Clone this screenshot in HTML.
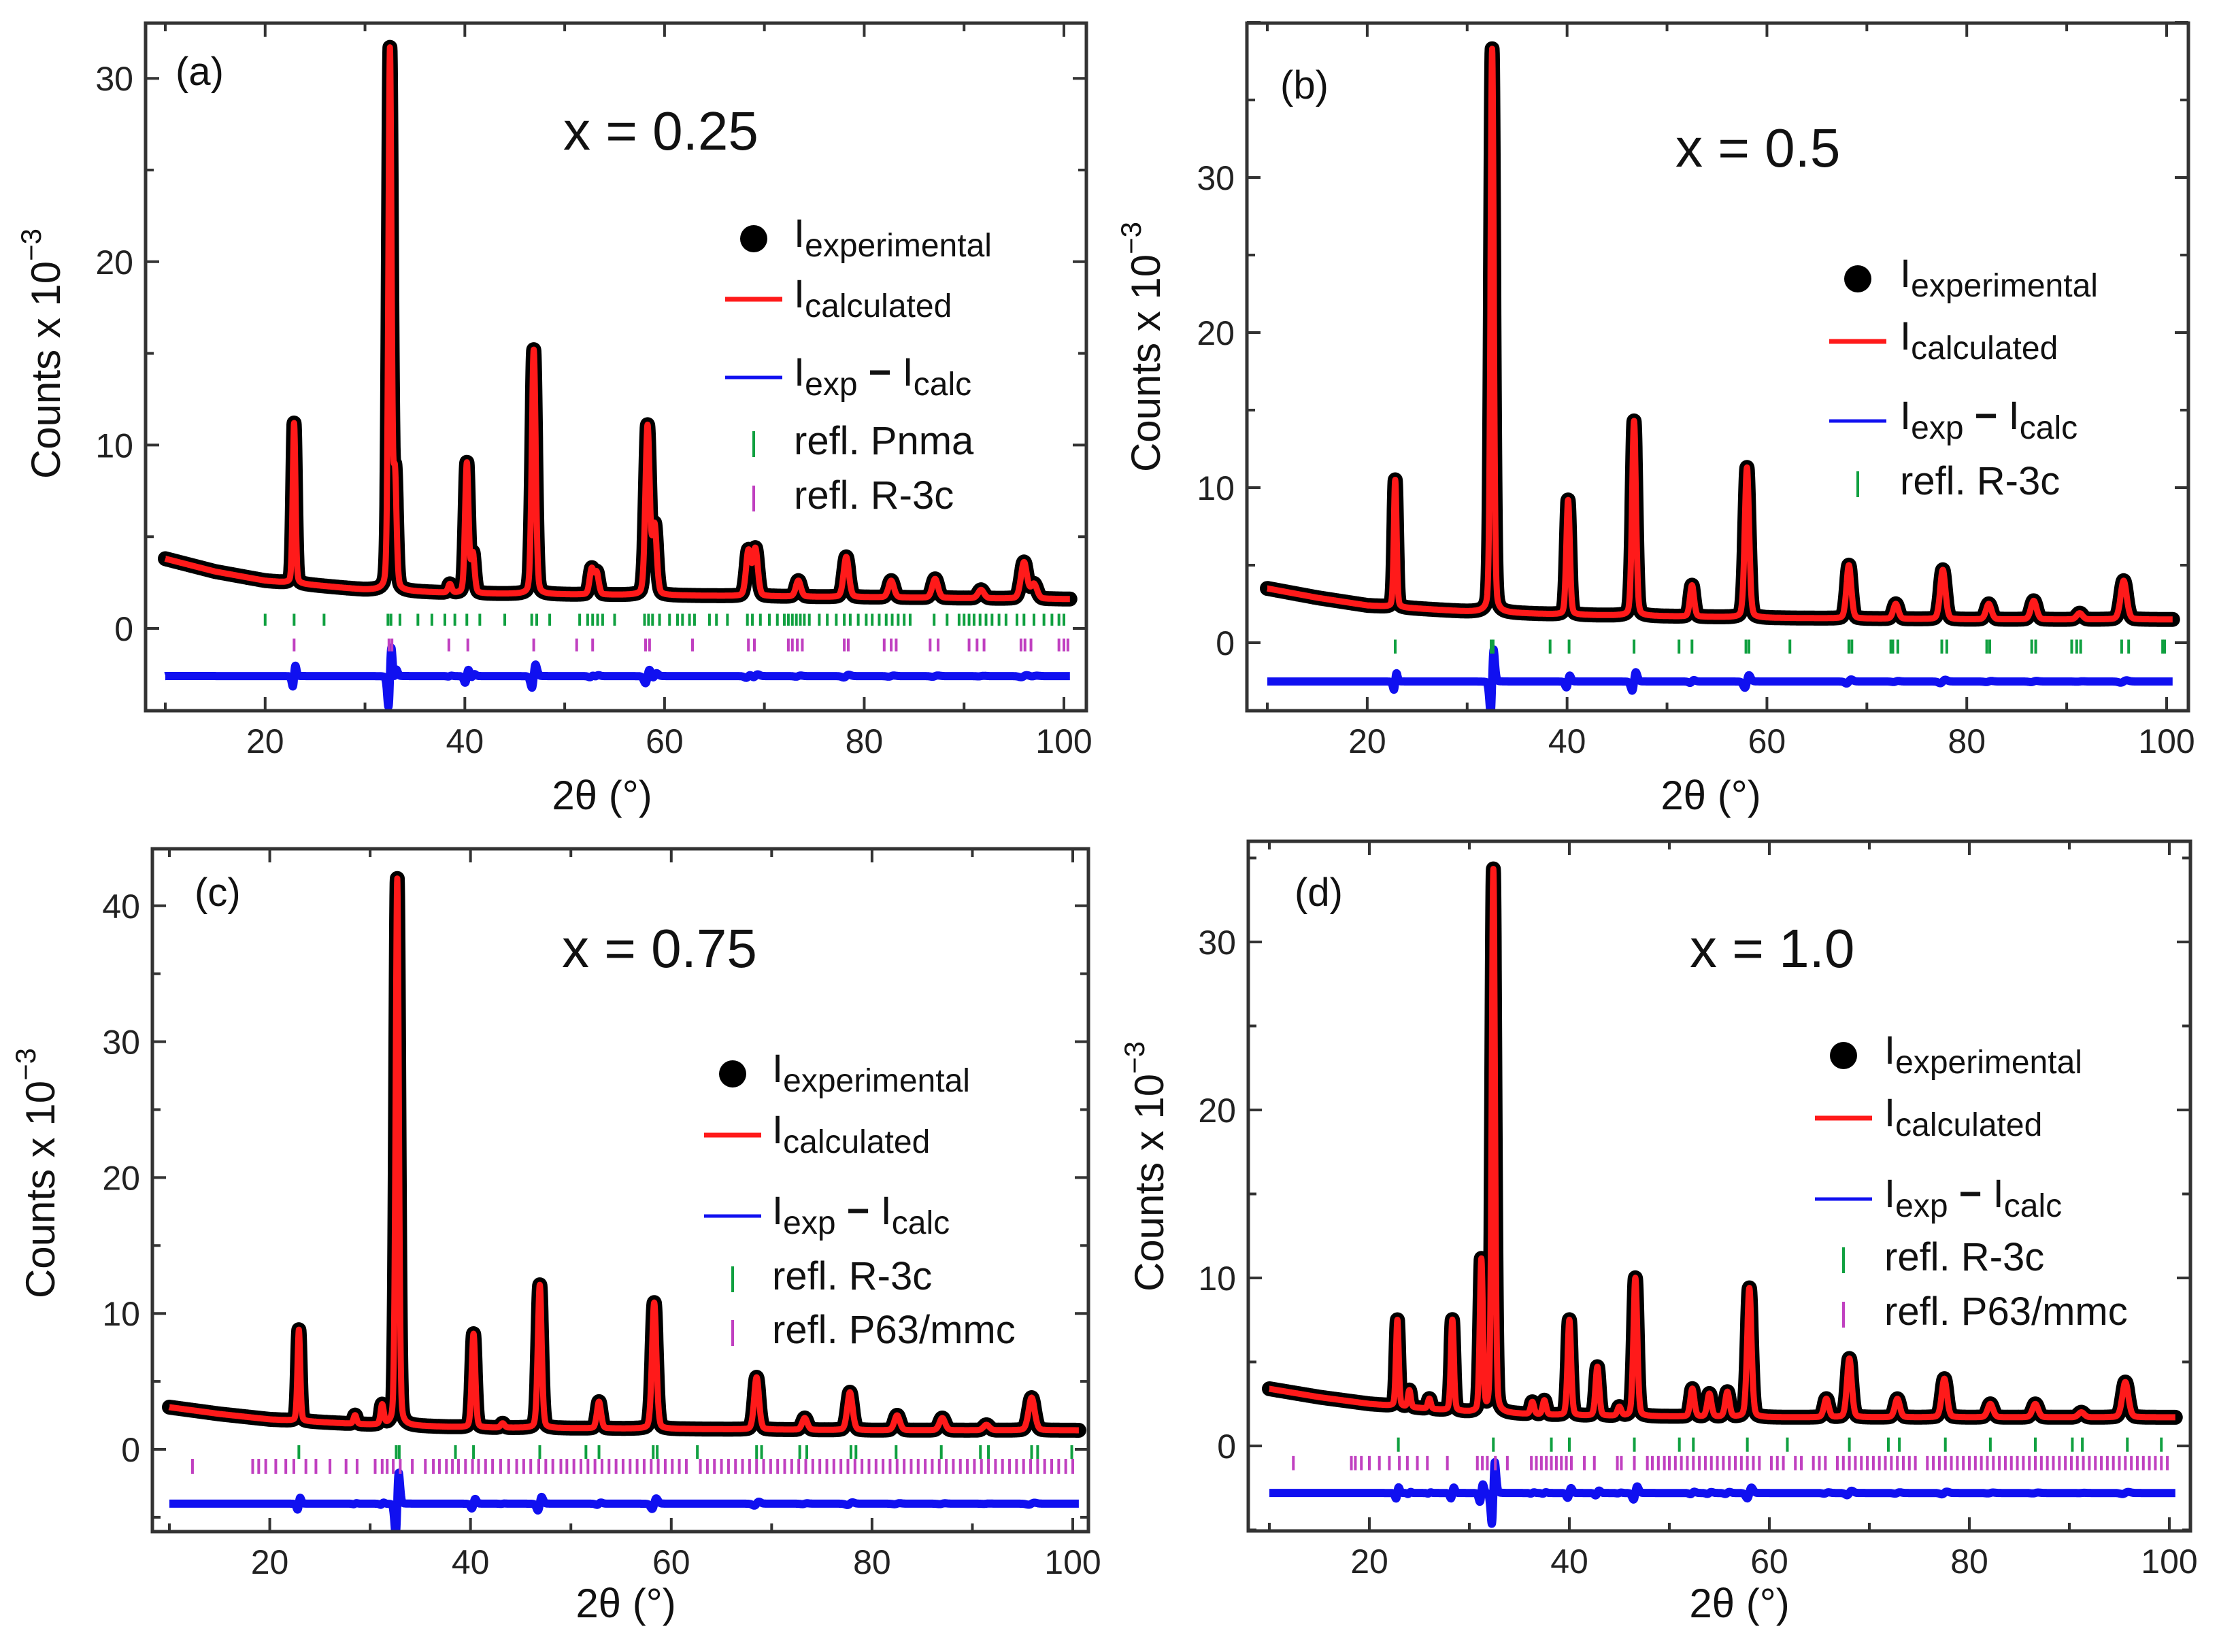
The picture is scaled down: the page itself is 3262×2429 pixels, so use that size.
<!DOCTYPE html>
<html><head><meta charset="utf-8"><style>
html,body{margin:0;padding:0;background:#fff;}
svg{display:block;font-family:"Liberation Sans",Arial,sans-serif;}
</style></head><body>
<svg id="fig" width="3262" height="2429" viewBox="0 0 3262 2429" xmlns="http://www.w3.org/2000/svg"></svg>
<script>
// ---------- DATA ----------
const bgX = [10, 15, 20, 30, 40, 60, 80, 100];
const bgA = [3.8, 3.1, 2.6, 2.1, 1.9, 1.8, 1.7, 1.6];
const bgB = [3.5, 2.9, 2.4, 2.0, 1.8, 1.6, 1.5, 1.5];
const bgC = [3.1, 2.6, 2.2, 1.8, 1.6, 1.5, 1.4, 1.4];
const bgD = [3.4, 2.9, 2.5, 2.0, 1.8, 1.7, 1.7, 1.7];

const peakPosA = [22.9, 32.5, 33.0, 38.5, 40.2, 40.8, 46.9, 52.7, 53.2, 58.3, 59.0, 68.4, 69.1, 73.4, 78.2, 82.7, 87.1, 91.7, 96.0, 97.0];
const peakHA   = [11.2, 31.5, 8.0, 2.4, 9.0, 4.0, 15.2, 3.2, 3.0, 11.0, 5.5, 4.2, 4.3, 2.6, 3.9, 2.6, 2.7, 2.1, 3.6, 2.4];
const peakPosB = [22.8, 32.5, 40.1, 46.7, 52.5, 58.0, 68.2, 72.9, 77.6, 82.2, 86.7, 91.3, 95.7];
const peakHB   = [10.5, 38.3, 9.2, 14.3, 3.7, 11.3, 5.0, 2.5, 4.7, 2.5, 2.7, 1.9, 4.0];
const peakPosC = [22.9, 28.5, 31.2, 32.7, 40.3, 43.2, 46.9, 52.8, 58.3, 68.5, 73.3, 77.8, 82.5, 87.0, 91.4, 95.9];
const peakHC   = [8.8, 2.5, 3.2, 42.0, 8.5, 1.9, 12.1, 3.5, 10.8, 5.3, 2.3, 4.2, 2.5, 2.3, 1.8, 3.8];
const peakPosD = [22.8, 24.0, 26.0, 28.3, 31.2, 32.4, 36.3, 37.5, 40.0, 42.8, 45.0, 46.6, 52.3, 54.0, 55.8, 58.0, 65.7, 68.0, 72.8, 77.5, 82.1, 86.6, 91.2, 95.6];
const peakHD   = [7.5, 3.3, 2.8, 7.5, 11.0, 34.3, 2.6, 2.7, 7.5, 4.7, 2.3, 10.0, 3.4, 3.1, 3.2, 9.4, 2.8, 5.2, 2.8, 4.0, 2.5, 2.5, 2.0, 3.8];

const reflPnmaA = [20.0,22.9,25.9,32.3,32.6,33.5,35.3,36.7,38.0,39.0,40.2,41.5,44.0,46.7,47.2,48.5,51.5,52.3,52.8,53.3,53.8,55.0,58.0,58.4,58.8,59.5,60.5,61.3,61.8,62.5,63.0,64.5,65.2,66.3,68.3,68.8,69.6,70.5,71.3,72.0,72.4,72.8,73.2,73.6,74.0,74.5,75.5,76.3,77.2,78.0,78.6,79.4,80.2,80.8,81.5,82.2,82.8,83.4,84.0,84.6,87.0,88.3,89.5,90.0,90.5,91.0,91.6,92.2,92.8,93.5,94.2,95.3,96.0,97.0,98.0,98.8,99.5,100.0];
const reflR3cA = [22.9,32.4,32.7,38.4,40.3,46.9,51.2,52.8,58.1,58.5,62.8,68.4,69.0,72.4,72.8,73.3,73.8,78.0,78.4,82.0,82.7,83.2,86.6,87.4,90.5,91.3,92.0,95.7,96.1,96.7,99.5,100.0,100.4];
const reflR3cB = [22.8,32.4,32.6,38.3,40.2,46.7,51.2,52.5,57.9,58.2,62.3,68.2,68.5,72.4,72.6,73.1,77.5,78.0,82.0,82.3,86.5,86.9,90.5,91.0,91.4,95.5,96.2,99.6,99.8];
const reflR3cC = [22.9,32.6,32.9,38.5,40.3,46.9,51.5,52.8,58.2,58.6,62.6,68.5,69.0,72.8,73.5,77.9,78.4,82.4,86.9,90.8,91.6,95.9,96.5,99.9];
const reflP63C = [12.3,18.3,18.9,19.6,20.6,21.6,22.4,23.6,24.6,26.0,27.6,28.7,30.5,31.2,31.7,32.3,33.0,34.2,35.5,36.3,36.9,37.6,38.2,38.8,39.5,40.2,40.8,41.5,42.2,43.0,43.8,44.6,45.3,46.0,46.8,47.5,48.2,49.0,49.6,50.3,51.0,51.7,52.4,53.1,53.8,54.5,55.2,55.9,56.6,57.3,58.0,58.7,59.4,60.1,60.8,61.5,62.9,63.6,64.3,65.0,65.7,66.4,67.1,67.8,68.5,69.2,69.9,70.6,71.3,72.0,72.7,73.4,74.1,74.8,75.5,76.2,76.9,77.6,78.3,79.0,79.7,80.4,81.1,81.8,82.5,83.2,83.9,84.6,85.3,86.0,86.7,87.4,88.1,88.8,89.5,90.2,90.9,91.6,92.3,93.0,93.7,94.4,95.1,95.8,96.5,97.2,97.9,98.6,99.3,100.0];
const reflR3cD = [22.9,32.4,38.2,40.0,46.5,51.0,52.4,57.8,61.8,68.0,71.9,73.0,77.6,82.1,86.6,90.3,91.3,95.8,99.2];
const reflP63D = [12.4,18.2,18.6,19.2,20.0,21.0,22.0,23.0,23.8,24.8,25.8,27.8,30.8,31.3,31.8,32.6,33.8,36.2,36.7,37.2,37.7,38.2,38.7,39.2,39.7,40.2,41.5,42.5,44.8,45.2,46.5,47.8,48.3,48.9,49.5,50.0,50.6,51.2,51.8,52.4,53.0,53.6,54.2,54.8,55.4,56.0,56.6,57.2,57.8,58.4,59.0,60.2,60.8,61.4,62.6,63.2,64.4,65.0,65.6,66.8,67.4,68.0,68.6,69.2,69.8,70.4,71.0,71.6,72.2,72.8,73.4,74.0,74.6,75.8,76.4,77.0,77.6,78.2,78.8,79.4,80.0,80.6,81.2,81.8,82.4,83.0,83.6,84.2,84.8,85.4,86.0,86.6,87.2,87.8,88.4,89.0,89.6,90.2,90.8,91.4,92.0,92.6,93.2,93.8,94.4,95.0,95.6,96.2,96.8,97.4,98.0,98.6,99.2,99.8];

const xTickLabels = [20, 40, 60, 80, 100];
const yTickLabelsA = [0, 10, 20, 30];
const yTickLabelsB = [0, 10, 20, 30];
const yTickLabelsC = [0, 10, 20, 30, 40];
const yTickLabelsD = [0, 10, 20, 30];

// ---------- LAYOUT ----------
const NS = "http://www.w3.org/2000/svg";
const svg = document.getElementById('fig');
function mk(tag, attrs, parent) {
  const e = document.createElementNS(NS, tag);
  for (const k in attrs) e.setAttribute(k, attrs[k]);
  (parent || svg).appendChild(e);
  return e;
}
function interp(xs, ys, x) {
  if (x <= xs[0]) return ys[0];
  for (let i = 1; i < xs.length; i++) if (x <= xs[i]) { const t = (x - xs[i-1]) / (xs[i] - xs[i-1]); return ys[i-1] + t * (ys[i] - ys[i-1]); }
  return ys[ys.length - 1];
}

const panels = [
  {id:'a', L:214, R:1597, T:34, B:1045, x10:243, x100:1564, y0:924, perUnit:26.96, ymin:-4.5, ymax:33.0,
   bg:bgA, pos:peakPosA, h:peakHA, resid:-2.6, yTicks:yTickLabelsA,
   green:reflPnmaA, greenY:[0.15,0.8], mag:reflR3cA, magY:[-0.55,-1.25],
   title:'x = 0.25', titleX:828, titleY:220, labX:258, labY:125,
   legX:1108, legTx:1167, legY:[351,440,555,648,728],
   legTexts:['Pnma','R-3c'], yTitleX:88, yTitleY:520, xTitleX:885, xTitleY:1190},
  {id:'b', L:1833, R:3217, T:34, B:1045, x10:1863, x100:3185, y0:945, perUnit:22.8, ymin:-4.4, ymax:40.0,
   bg:bgB, pos:peakPosB, h:peakHB, resid:-2.5, yTicks:yTickLabelsB,
   green:reflR3cB, greenY:[0.2,-0.7], mag:null,
   title:'x = 0.5', titleX:2463, titleY:245, labX:1882, labY:145,
   legX:2731, legTx:2793, legY:[410,502,619,707],
   legTexts:['R-3c'], yTitleX:1705, yTitleY:510, xTitleX:2515, xTitleY:1190},
  {id:'c', L:224, R:1600, T:1248, B:2252, x10:249, x100:1577, y0:2131, perUnit:19.98, ymin:-6.05, ymax:44.2,
   bg:bgC, pos:peakPosC, h:peakHC, resid:-4.0, yTicks:yTickLabelsC,
   green:reflR3cC, greenY:[0.3,-0.7], mag:reflP63C, magY:[-0.7,-1.8],
   title:'x = 0.75', titleX:826, titleY:1422, labX:286, labY:1332,
   legX:1077, legTx:1135, legY:[1579,1669,1788,1876,1955],
   legTexts:['R-3c','P63/mmc'], yTitleX:80, yTitleY:1725, xTitleX:920, xTitleY:2378},
  {id:'d', L:1835, R:3220, T:1237, B:2251, x10:1866, x100:3189, y0:2126, perUnit:24.7, ymin:-5.06, ymax:36.0,
   bg:bgD, pos:peakPosD, h:peakHD, resid:-2.8, yTicks:yTickLabelsD,
   green:reflR3cD, greenY:[0.5,-0.35], mag:reflP63D, magY:[-0.6,-1.45],
   title:'x = 1.0', titleX:2484, titleY:1422, labX:1903, labY:1332,
   legX:2710, legTx:2770, legY:[1552,1644,1763,1848,1928],
   legTexts:['R-3c','P63/mmc'], yTitleX:1710, yTitleY:1715, xTitleX:2557, xTitleY:2378}
];

function profile(p, x) {
  let y = interp(bgX, p.bg, x);
  for (let i = 0; i < p.pos.length; i++) {
    const amp = p.h[i] - interp(bgX, p.bg, p.pos[i]);
    const w = 0.10 + 0.0027 * p.pos[i];
    const d = (x - p.pos[i]) / w;
    y += amp * (0.8 * Math.exp(-d * d * 0.693) + 0.2 / (1 + d * d));
  }
  return y;
}

panels.forEach(p => {
  const g = mk('g', {});
  
  
  const sx = v => p.x10 + (v - 10) * (p.x100 - p.x10) / 90;
  const sy = v => p.y0 - v * p.perUnit;
  const clipId = 'clip' + p.id;
  const cp = mk('clipPath', {id: clipId}, g);
  mk('rect', {x: p.L, y: p.T, width: p.R - p.L, height: p.B - p.T}, cp);
  const plot = mk('g', {'clip-path': 'url(#' + clipId + ')'}, g);

  let d = '', dr = '';
  for (let x = 10; x <= 100.6; x += 0.02) {
    const v = profile(p, x);
    d += (d ? 'L' : 'M') + sx(x).toFixed(1) + ' ' + sy(v).toFixed(1);
    const dv = profile(p, x + 0.05) - profile(p, x - 0.05);
    const r = p.resid - 0.16 * dv;
    dr += (dr ? 'L' : 'M') + sx(x).toFixed(1) + ' ' + sy(r).toFixed(1);
  }
  const exp = mk('path', {d: d, fill: 'none', stroke: '#000', 'stroke-width': 22, 'stroke-linejoin': 'round', 'stroke-linecap': 'round'}, plot);
  
  
  const calc = mk('path', {d: d, fill: 'none', stroke: '#ff1a1a', 'stroke-width': 9, 'stroke-linejoin': 'round'}, plot);
  
  
  const res = mk('path', {d: dr, fill: 'none', stroke: '#1010f0', 'stroke-width': 12, 'stroke-linejoin': 'round'}, plot);
  
  

  const gg = mk('g', {stroke: '#10a040', 'stroke-width': 4}, plot);
  
  
  p.green.forEach(v => mk('line', {x1: sx(v), x2: sx(v), y1: sy(p.greenY[0]), y2: sy(p.greenY[1])}, gg));
  if (p.mag) {
    const gm = mk('g', {stroke: '#c040c0', 'stroke-width': 4}, plot);
    
    
    p.mag.forEach(v => mk('line', {x1: sx(v), x2: sx(v), y1: sy(p.magY[0]), y2: sy(p.magY[1])}, gm));
  }

  const fr = mk('rect', {x: p.L, y: p.T, width: p.R - p.L, height: p.B - p.T, fill: 'none', stroke: '#333', 'stroke-width': 5}, g);
  
  

  for (let v = 10; v <= 100; v += 10) {
    const X = sx(v), len = (v % 20 === 0) ? 20 : 12;
    mk('line', {x1: X, x2: X, y1: p.B, y2: p.B - len, stroke: '#333', 'stroke-width': 4}, g);
    mk('line', {x1: X, x2: X, y1: p.T, y2: p.T + len, stroke: '#333', 'stroke-width': 4}, g);
  }
  xTickLabels.forEach(v => {
    const t = mk('text', {x: sx(v), y: p.B + 62, 'font-size': 50, 'text-anchor': 'middle', fill: '#222'}, g);
    t.textContent = v;
    
    
  });
  for (let v = Math.ceil(p.ymin / 5) * 5; v <= p.ymax; v += 5) {
    const Y = sy(v), len = (v % 10 === 0) ? 20 : 12;
    mk('line', {x1: p.L, x2: p.L + len, y1: Y, y2: Y, stroke: '#333', 'stroke-width': 4}, g);
    mk('line', {x1: p.R, x2: p.R - len, y1: Y, y2: Y, stroke: '#333', 'stroke-width': 4}, g);
  }
  p.yTicks.forEach(v => {
    const t = mk('text', {x: p.L - 18, y: sy(v) + 18, 'font-size': 50, 'text-anchor': 'end', fill: '#222'}, g);
    t.textContent = v;
    
    
  });

  const yt = mk('text', {x: 0, y: 0, 'font-size': 60, 'text-anchor': 'middle', fill: '#111', transform: 'translate(' + p.yTitleX + ',' + p.yTitleY + ') rotate(-90)'}, g);
  yt.innerHTML = 'Counts x 10<tspan dy="-28" font-size="42">−3</tspan>';
  
  
  const xt = mk('text', {x: p.xTitleX, y: p.xTitleY, 'font-size': 60, 'text-anchor': 'middle', fill: '#111'}, g);
  xt.textContent = '2θ (°)';
  
  

  const lb = mk('text', {x: p.labX, y: p.labY, 'font-size': 58, fill: '#111'}, g);
  lb.textContent = '(' + p.id + ')';
  
  
  const tt = mk('text', {x: p.titleX, y: p.titleY, 'font-size': 80, fill: '#111'}, g);
  tt.textContent = p.title;
  
  

  const lg = mk('g', {}, g);
  
  
  const ly = p.legY, lx = p.legX, tx = p.legTx;
  mk('circle', {cx: lx, cy: ly[0], r: 20, fill: '#000'}, lg);
  mk('line', {x1: lx - 42, x2: lx + 42, y1: ly[1], y2: ly[1], stroke: '#ff1a1a', 'stroke-width': 7}, lg);
  mk('line', {x1: lx - 42, x2: lx + 42, y1: ly[2], y2: ly[2], stroke: '#1010f0', 'stroke-width': 5}, lg);
  const e1 = mk('text', {x: tx, y: ly[0] + 12, 'font-size': 58, fill: '#111'}, lg);
  e1.innerHTML = 'I<tspan dy="14" font-size="48">experimental</tspan>';
  
  
  const e2 = mk('text', {x: tx, y: ly[1] + 12, 'font-size': 58, fill: '#111'}, lg);
  e2.innerHTML = 'I<tspan dy="14" font-size="48">calculated</tspan>';
  
  
  const e3 = mk('text', {x: tx, y: ly[2] + 12, 'font-size': 58, fill: '#111'}, lg);
  e3.innerHTML = 'I<tspan dy="14" font-size="48">exp</tspan><tspan dy="-14" font-weight="bold"> − </tspan>I<tspan dy="14" font-size="48">calc</tspan>';
  
  
  const cols = ['#10a040', '#c040c0'];
  p.legTexts.forEach((s, i) => {
    const Y = ly[3 + i];
    mk('line', {x1: lx, x2: lx, y1: Y - 14, y2: Y + 24, stroke: cols[i], 'stroke-width': 4}, lg);
    const e = mk('text', {x: tx, y: Y + 20, 'font-size': 58, fill: '#111'}, lg);
    e.textContent = 'refl. ' + s;
    
    
  });
});
</script>
</body></html>
